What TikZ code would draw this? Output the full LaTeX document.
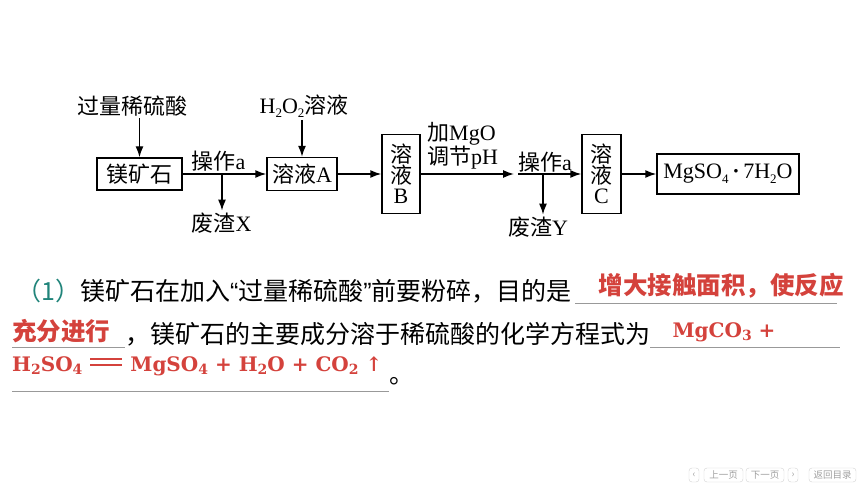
\documentclass[tikz,border=0pt]{standalone}
\usepackage{fontspec}
\usepackage{tikz}
\usetikzlibrary{positioning,arrows.meta}

\setmainfont{Liberation Serif}
\newfontfamily\cjk{Noto Sans CJK SC}
\newfontfamily\formfont{DejaVu Serif}
\newfontfamily\qfont{Liberation Sans}

\definecolor{ansred}{RGB}{212,66,60}
\definecolor{numteal}{RGB}{32,132,122}

\newcommand{\sub}[1]{\raisebox{-0.45ex}{\fontsize{13}{13}\selectfont #1}}
\newcommand{\fsub}[1]{\raisebox{-0.3ex}{\fontsize{14}{14}\selectfont #1}}
\newcommand{\eqs}{\makebox[34pt]{\rlap{\rule[11.5pt]{32pt}{1.6pt}}\rule[5.5pt]{32pt}{1.6pt}}}

\tikzset{
  box/.style={draw, line width=1.4pt, inner sep=0pt, font=\fontsize{22}{20.5}\selectfont},
  lbl/.style={inner sep=2pt, font=\fontsize{22}{21.5}\selectfont},
  flow/.style={line width=1.4pt, -{Latex[length=11pt, width=8pt]}},
  txt/.style={inner sep=0pt, anchor=west, font=\cjk\fontsize{25}{25}\selectfont},
  ans/.style={inner sep=0pt, text=ansred, font=\cjk\bfseries\fontsize{24.5}{24.5}\selectfont},
  form/.style={inner sep=0pt, text=ansred, font=\formfont\bfseries\fontsize{20}{20}\selectfont},
  blank/.style={draw=gray!80, line width=0.8pt},
  navbtn/.style={draw=gray!35, rounded corners=3pt, text=gray!75, inner sep=1pt, minimum height=14pt, font=\cjk\fontsize{9.5}{9.5}\selectfont},
}

\begin{document}
\begin{tikzpicture}[x=1pt,y=-1pt]
\useasboundingbox (0,0) rectangle (860,484);

% boxes of the flow
\node[box, minimum width=85pt, minimum height=32pt] (ore) at (139.5,174) {\cjk 镁矿石};
\node[box, minimum width=70pt, minimum height=33pt] (solA) at (302,174) {{\cjk 溶液}A};
\node[box, minimum width=38pt, minimum height=79pt, align=center] (solB) at (401,174) {{\cjk 溶}\\{\cjk 液}\\B};
\node[box, minimum width=39pt, minimum height=79pt, align=center] (solC) at (601.5,174) {{\cjk 溶}\\{\cjk 液}\\C};
\node[box, minimum width=142pt, minimum height=40pt] (prod) at (728,174) {MgSO\sub{4}\,\textbf{·}\,7H\sub{2}O};

% labels
\node[lbl] (acid) at (132,106) {\cjk 过量稀硫酸};
\node[lbl] (h2o2) at (304,106) {H\sub{2}O\sub{2}{\cjk 溶液}};
\node[lbl] (opA) at (218.5,161) {{\cjk 操作}a};
\node[lbl] (wasteX) at (221.5,223) {{\cjk 废渣}X};
\node[lbl, align=left, anchor=west] (mgo) at (425,146) {{\cjk 加}MgO\\{\cjk 调节}pH};
\node[lbl] (opB) at (545,162) {{\cjk 操作}a};
\node[lbl] (wasteY) at (538,227) {{\cjk 废渣}Y};

\coordinate (j1) at (222,174);
\coordinate (p1) at (514,174);
\coordinate (p2) at (518,174);
\coordinate (jY) at (543,174);

\draw[flow] (acid.south -| ore.north) -- (ore.north);
\draw[flow] (h2o2.south -| solA.north) -- (solA.north);
\draw[flow] (ore) -- (solA);
\draw[flow] (j1) -- (j1 |- wasteX.north);
\draw[flow] (solA) -- (solB);
\draw[flow] (solB) -- (p1);
\draw[flow] (p2) -- (solC);
\draw[flow] (jY) -- (jY |- wasteY.north);
\draw[flow] (solC) -- (prod);

% question text
\node[txt] (q1) at (16,291) {{\color{numteal}（1）}镁矿石在加入{\qfont “}过量稀硫酸{\qfont ”}前要粉碎，目的是};
\node[ans] (a1) at (721,286) {增大接触面积，使反应};
\draw[blank] (575,303) -- (837,303);

\node[ans, anchor=west] (a2) at (12,331) {充分进行};
\draw[blank] (12,347) -- (125,347);
\node[txt] (q2) at (125,334) {，镁矿石的主要成分溶于稀硫酸的化学方程式为};
\node[form] (f1) at (724,332) {MgCO\fsub{3} +};
\draw[blank] (650,347) -- (840,347);

\node[form, anchor=west] (f2) at (12,366) {H\fsub{2}SO\fsub{4} \eqs{} MgSO\fsub{4} + H\fsub{2}O + CO\fsub{2} ↑};
\draw[blank] (12,391) -- (389,391);
\node[txt] (stop) at (389,381) {。};

% page buttons
\node[navbtn, minimum width=10pt] (prev) at (694,475) {‹};
\node[navbtn, minimum width=39pt] (up) at (723.5,475) {上一页};
\node[navbtn, minimum width=38pt] (down) at (765,475) {下一页};
\node[navbtn, minimum width=10pt] (next) at (793,475) {›};
\node[navbtn, minimum width=47pt] (menu) at (832.5,475) {返回目录};

\end{tikzpicture}
\end{document}
